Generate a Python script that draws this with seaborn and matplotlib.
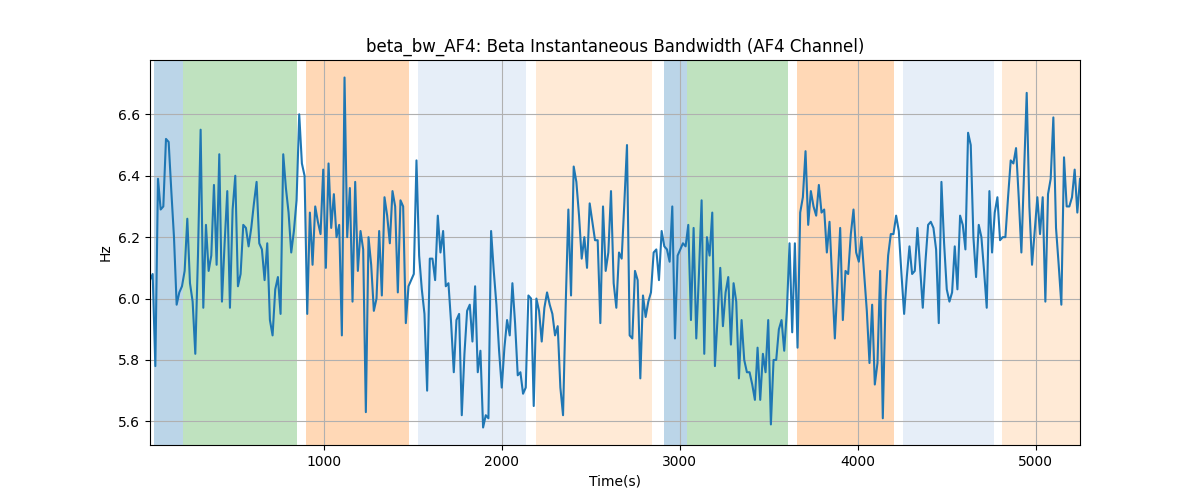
import numpy as np
import pandas as pd
import matplotlib
matplotlib.use("Agg")
import matplotlib.pyplot as plt
import seaborn as sns

# Instantaneous beta bandwidth (Hz), in time order
bw_part1 = [6.06, 6.08, 5.78, 6.39, 6.29, 6.30, 6.52, 6.51, 6.35, 6.20, 5.98, 6.02, 6.04, 6.09, 6.26,
            6.05, 5.99, 5.82, 6.14, 6.55, 5.97, 6.24, 6.09, 6.14, 6.37, 6.11, 6.47, 5.99, 6.18, 6.35,
            5.97, 6.29, 6.40, 6.04, 6.08, 6.24, 6.23, 6.17, 6.23, 6.31, 6.38, 6.18, 6.16, 6.06, 6.18,
            5.93, 5.88, 6.03, 6.07, 5.95, 6.47, 6.36, 6.28, 6.15, 6.22, 6.32, 6.60, 6.44, 6.40, 5.95,
            6.28, 6.11, 6.30, 6.25, 6.21, 6.42, 6.10, 6.44, 6.23, 6.34, 6.20, 6.24, 5.88, 6.72]
bw_part2 = [6.20, 6.36, 5.99, 6.38, 6.09, 6.22, 6.16, 5.63, 6.20, 6.11, 5.96, 6.00, 6.22, 6.01, 6.33,
            6.27, 6.18, 6.35, 6.30, 6.02, 6.32, 6.30, 5.92, 6.04, 6.06, 6.08, 6.45, 6.14, 6.03, 5.95,
            5.70, 6.13, 6.13, 6.06, 6.27, 6.15, 6.22, 6.04, 6.05, 5.92, 5.76, 5.93, 5.95, 5.62, 5.82,
            5.96, 5.98, 5.86, 6.04, 5.76, 5.83, 5.58, 5.62, 5.61, 6.22, 6.09, 5.98, 5.83, 5.71, 5.84,
            5.93, 5.88, 6.05, 5.92, 5.75, 5.76, 5.69, 5.71, 6.01]
bw_part3 = [6.00, 5.65, 6.00, 5.96, 5.86, 5.97, 6.02, 5.98, 5.95, 5.88, 5.91, 5.71, 5.62, 5.98, 6.29,
            6.01, 6.43, 6.38, 6.27, 6.13, 6.20, 6.10, 6.31, 6.25, 6.19, 6.19, 5.92, 6.30, 6.09, 6.15,
            6.35, 6.05, 5.97, 6.15, 6.13, 6.31, 6.50, 5.88, 5.87, 6.09, 6.06, 5.74, 6.01, 5.94, 5.99,
            6.02, 6.15, 6.16, 6.06, 6.22, 6.17, 6.16, 6.12, 6.30, 5.87, 6.14, 6.16, 6.18, 6.17, 6.24,
            5.93, 6.23, 5.87, 6.08, 6.32, 5.82, 6.20, 6.14, 6.28, 5.78]
bw_part4 = [5.94, 6.10, 5.91, 6.02, 6.07, 5.85, 6.05, 5.99, 5.74, 5.93, 5.80, 5.76, 5.76, 5.72, 5.67,
            5.84, 5.67, 5.82, 5.76, 5.93, 5.59, 5.80, 5.80, 5.90, 5.93, 5.83, 5.96, 6.18, 5.89, 6.18,
            5.84, 6.28, 6.33, 6.48, 6.24, 6.35, 6.30, 6.27, 6.37, 6.28, 6.29, 6.15, 6.25, 6.06, 5.87,
            6.05, 6.23, 5.93, 6.09, 6.08, 6.21, 6.29, 6.15, 6.12, 6.20, 6.08, 5.96, 5.79, 5.98, 5.72,
            5.79, 6.09, 5.61, 5.99, 6.14, 6.21, 6.21, 6.27, 6.22]
bw_part5 = [6.08, 5.95, 6.07, 6.17, 6.08, 6.09, 6.23, 6.10, 5.97, 6.12, 6.24, 6.25, 6.23, 6.16, 5.92,
            6.38, 6.18, 6.03, 5.99, 6.02, 6.17, 6.03, 6.27, 6.24, 6.16, 6.54, 6.50, 6.20, 6.07, 6.24,
            6.20, 6.09, 5.97, 6.35, 6.15, 6.28, 6.33, 6.19, 6.20, 6.20, 6.33, 6.45, 6.44, 6.49, 6.33,
            6.15, 6.41, 6.67, 6.30, 6.11, 6.22, 6.33, 6.21, 6.33, 5.99, 6.34, 6.39, 6.59, 6.23, 6.11,
            5.98, 6.46, 6.30, 6.30, 6.33, 6.42, 6.28, 6.39]

t_start, t_end = 22.0, 5250.0

# Shaded phases
region_starts = [47, 207, 897, 1528, 2193, 2909, 3042, 3658, 4255, 4813]
region_ends = [207, 851, 1478, 2135, 2845, 3042, 3611, 4203, 4768, 5260]
region_colors = ["tab:blue", "tab:green", "tab:orange", "#aec7e8", "#ffbb78",
                 "tab:blue", "tab:green", "tab:orange", "#aec7e8", "#ffbb78"]

values = bw_part1 + bw_part2 + bw_part3 + bw_part4 + bw_part5
times = np.linspace(t_start, t_end, len(values))
df = pd.DataFrame({"Time(s)": times, "Hz": values})

fig, ax = plt.subplots(figsize=(12, 5), dpi=100)
for s, e, c in zip(region_starts, region_ends, region_colors):
    ax.axvspan(s, e, color=c, alpha=0.3, linewidth=0)

sns.lineplot(data=df, x="Time(s)", y="Hz", ax=ax, color="tab:blue", linewidth=1.5)
ax.grid(True)
ax.set_xlim(times.min(), times.max())
ax.set_title("beta_bw_AF4: Beta Instantaneous Bandwidth (AF4 Channel)")
ax.set_xlabel("Time(s)")
ax.set_ylabel("Hz")
fig.savefig("out.png", dpi=100)
